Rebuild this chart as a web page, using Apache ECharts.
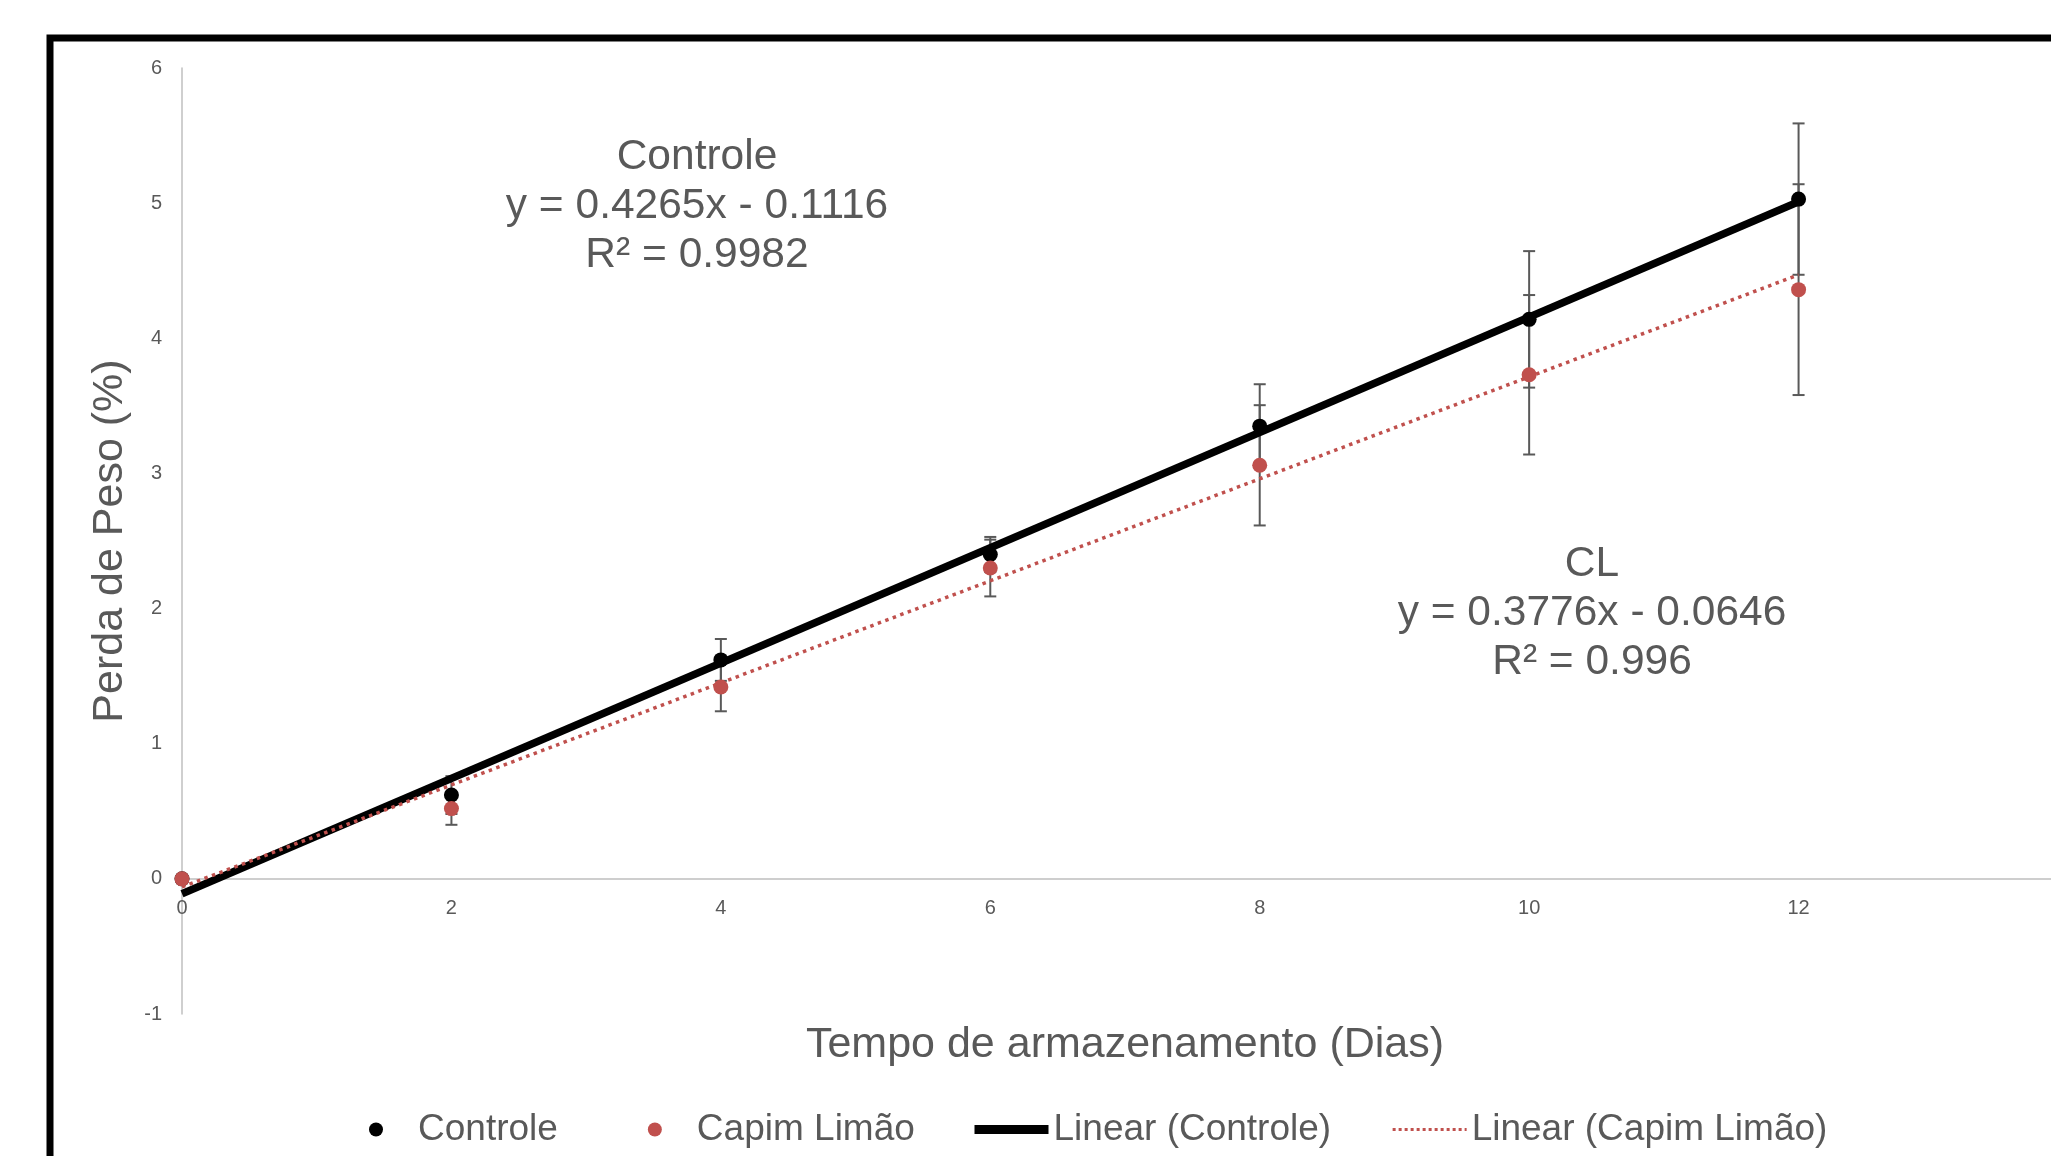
<!DOCTYPE html>
<html>
<head>
<meta charset="utf-8">
<script src="https://cdn.jsdelivr.net/npm/echarts@6/dist/echarts.min.js"></script>
<style>
  html, body { margin: 0; padding: 0; background: #fff; }
  #chart { width: 2051px; height: 1156px; }
</style>
</head>
<body>
<div id="chart"></div>
<script>
  // dias de armazenamento
  const days = [0, 2, 4, 6, 8, 10, 12];
  const controle = [0, 0.62, 1.62, 2.40, 3.35, 4.14, 5.03];
  const capimLimao = [0, 0.52, 1.42, 2.30, 3.06, 3.73, 4.36];
  const erroControle = [0, 0.14, 0.155, 0.13, 0.31, 0.505, 0.56];
  const erroCapim = [0, 0.12, 0.18, 0.21, 0.445, 0.59, 0.78];

  // linhas de tendencia (pontas)
  const trendX = [0, 12];
  const trendControle = [-0.11, 5.01];
  const trendCapim = [-0.06, 4.47];

  const textoControle = ['Controle', 'y = 0.4265x - 0.1116', 'R² = 0.9982'];
  const textoCapim = ['CL', 'y = 0.3776x - 0.0646', 'R² = 0.996'];

  const cinza = '#595959';
  const vermelho = '#C0504D';
  const fonte = '"Liberation Sans", Arial, sans-serif';

  const gridTop = 68;
  const gridBottom = 142;
  const yMin = -1;
  const yMax = 6;
  // distancia em px do fundo do grid ate y = 0
  const zeroOffset = ((1156 - gridTop - gridBottom) / (yMax - yMin)) * (0 - yMin);

  const pares = (xs, ys) => xs.map((x, i) => [x, ys[i]]);
  const barras = (vals, errs) =>
    days.map((d, i) => [d, vals[i] - errs[i], vals[i] + errs[i]]).filter((r, i) => errs[i] > 0);

  const errorBarItem = (params, api) => {
    const x = api.value(0);
    const top = api.coord([x, api.value(2)]);
    const bot = api.coord([x, api.value(1)]);
    const hw = 6;
    const style = { stroke: cinza, lineWidth: 2 };
    return {
      type: 'group',
      children: [
        { type: 'line', shape: { x1: top[0], y1: top[1], x2: bot[0], y2: bot[1] }, style },
        { type: 'line', shape: { x1: top[0] - hw, y1: top[1], x2: top[0] + hw, y2: top[1] }, style },
        { type: 'line', shape: { x1: bot[0] - hw, y1: bot[1], x2: bot[0] + hw, y2: bot[1] }, style },
      ],
    };
  };

  const anotacao = (linhas, cx, y0) =>
    linhas.map((t, i) => ({
      type: 'text',
      x: cx,
      y: y0 + i * 49,
      silent: true,
      style: {
        text: t,
        fill: cinza,
        font: '42.5px ' + fonte,
        textAlign: 'center',
        textVerticalAlign: 'middle',
      },
    }));

  const chart = echarts.init(document.getElementById('chart'));

  const option = {
    animation: false,
    backgroundColor: '#fff',
    textStyle: { fontFamily: fonte },
    grid: {
      left: 182,
      right: -17,
      top: gridTop,
      bottom: gridBottom,
      containLabel: false,
      outerBoundsMode: 'none',
    },
    xAxis: {
      type: 'value',
      min: 0,
      max: 14,
      interval: 2,
      offset: -zeroOffset,
      name: 'Tempo de armazenamento (Dias)',
      nameLocation: 'middle',
      nameGap: 145,
      nameMoveOverlap: false,
      nameTextStyle: { fontSize: 43, color: cinza, verticalAlign: 'top' },
      axisLine: { onZero: false, lineStyle: { color: '#bfbfbf', width: 1.5 } },
      axisTick: { show: false },
      splitLine: { show: false },
      axisLabel: { fontSize: 20, color: cinza, margin: 20 },
    },
    yAxis: {
      type: 'value',
      min: yMin,
      max: yMax,
      interval: 1,
      name: 'Perda de Peso (%)',
      nameLocation: 'middle',
      nameGap: 50,
      nameMoveOverlap: false,
      nameTextStyle: { fontSize: 43, color: cinza },
      axisLine: { show: true, onZero: false, lineStyle: { color: '#bfbfbf', width: 1.5 } },
      axisTick: { show: false },
      splitLine: { show: false },
      axisLabel: { fontSize: 20, color: cinza, margin: 20 },
    },
    legend: [
      {
        data: ['Controle', 'Capim Limão'],
        left: 364,
        top: 1106,
        itemWidth: 14,
        itemHeight: 14,
        itemGap: 90,
        textStyle: { fontSize: 37, color: cinza, padding: [0, 0, 0, 30] },
      },
      {
        data: [
          { name: 'Linear (Controle)', itemStyle: { opacity: 0 }, lineStyle: { width: 9 } },
          { name: 'Linear (Capim Limão)', itemStyle: { opacity: 0 }, lineStyle: { width: 3, type: [3, 3] } },
        ],
        left: 965,
        top: 1106,
        itemWidth: 74,
        itemHeight: 14,
        itemGap: 60,
        textStyle: { fontSize: 37, color: cinza },
      },
    ],
    graphic: [
      {
        type: 'rect',
        silent: true,
        shape: { x: 50, y: 38, width: 2200, height: 1400 },
        style: { fill: 'none', stroke: '#000', lineWidth: 7 },
      },
      ...anotacao(textoControle, 697, 157),
      ...anotacao(textoCapim, 1592, 564),
    ],
    series: [
      {
        name: 'erro controle',
        type: 'custom',
        renderItem: errorBarItem,
        data: barras(controle, erroControle),
        z: 1,
      },
      {
        name: 'erro capim',
        type: 'custom',
        renderItem: errorBarItem,
        data: barras(capimLimao, erroCapim),
        z: 1,
      },
      {
        name: 'Controle',
        type: 'scatter',
        symbolSize: 15,
        itemStyle: { color: '#000', opacity: 1 },
        data: pares(days, controle),
        z: 2,
      },
      {
        name: 'Capim Limão',
        type: 'scatter',
        symbolSize: 15,
        itemStyle: { color: vermelho, opacity: 1 },
        data: pares(days, capimLimao),
        z: 2,
      },
      {
        name: 'Linear (Controle)',
        type: 'line',
        symbol: 'none',
        lineStyle: { color: '#000', width: 7.5 },
        itemStyle: { color: '#000' },
        data: pares(trendX, trendControle),
        z: 3,
      },
      {
        name: 'Linear (Capim Limão)',
        type: 'line',
        symbol: 'none',
        lineStyle: { color: vermelho, width: 3.5, type: [3.5, 4.5] },
        itemStyle: { color: vermelho },
        data: pares(trendX, trendCapim),
        z: 3,
      },
    ],
  };

  chart.setOption(option);
</script>
</body>
</html>
